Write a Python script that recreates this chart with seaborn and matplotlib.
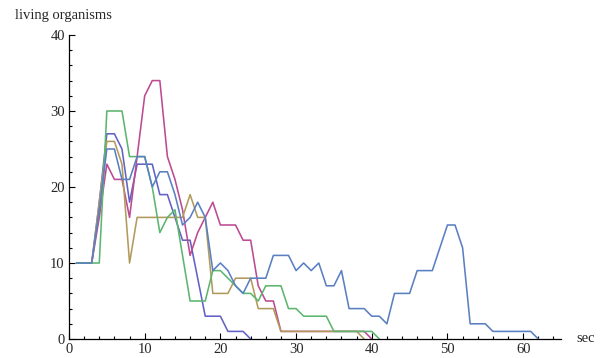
import matplotlib
matplotlib.use("Agg")
import matplotlib.pyplot as plt
import pandas as pd
import seaborn as sns
from matplotlib.ticker import MultipleLocator

# Population counts per second for five runs
run_names = ["run 1", "run 2", "run 3", "run 4", "run 5"]

run1 = [10, 10, 10, 18, 27, 27, 25, 18, 23, 23, 23, 19, 19, 16, 13, 13, 8, 3, 3, 3,
        1, 1, 1, 0]
run2 = [10, 10, 10, 16, 23, 21, 21, 16, 24, 32, 34, 34, 24, 21, 17, 11, 14, 16, 18, 15,
        15, 15, 13, 13, 7, 5, 5, 1, 1, 1, 1, 1, 1, 1, 1, 1, 1, 1, 1, 0]
run3 = [10, 10, 10, 18, 26, 26, 23, 10, 16, 16, 16, 16, 16, 16, 16, 19, 16, 16, 6, 6,
        6, 8, 8, 8, 4, 4, 4, 1, 1, 1, 1, 1, 1, 1, 1, 1, 1, 1, 0]
run4 = [10, 10, 10, 10, 30, 30, 30, 24, 24, 24, 20, 14, 16, 17, 11, 5, 5, 5, 9, 9,
        8, 7, 6, 6, 5, 7, 7, 7, 4, 4, 3, 3, 3, 3, 1, 1, 1, 1, 1, 1, 0]
run5 = [10, 10, 10, 17, 25, 25, 21, 21, 24, 24, 20, 22, 22, 19, 15, 16, 18, 16, 9, 10,
        9, 7, 6, 8, 8, 8, 11, 11, 11, 9, 10, 9, 10, 7, 7, 9, 4, 4, 4, 3,
        3, 2, 6, 6, 6, 9, 9, 9, 12, 15, 15, 12, 2, 2, 2, 1, 1, 1, 1, 1,
        1, 0]

run_colors = ["#6262c6", "#bd4a92", "#b39a5c", "#5cb66f", "#5a80c2"]

x_ticks = [0, 10, 20, 30, 40, 50, 60]
y_ticks = [0, 10, 20, 30, 40]

rows = []
for name, values in zip(run_names, [run1, run2, run3, run4, run5]):
    for t, v in enumerate(values, start=1):
        rows.append({"run": name, "sec": t, "count": v})
df = pd.DataFrame(rows)

sns.set_style("ticks")
plt.rcParams["font.family"] = ["Liberation Serif", "DejaVu Serif"]

fig = plt.figure(figsize=(6.03, 3.58), dpi=100)
ax = fig.add_axes([69 / 603, 19 / 358, (561 - 69) / 603, (339 - 35) / 358])

sns.lineplot(data=df, x="sec", y="count", hue="run", hue_order=run_names,
             palette=run_colors, linewidth=1.15, legend=False, ax=ax,
             estimator=None, sort=False)

ax.set_xlim(0, 65)
ax.set_ylim(0, 40)
ax.set_xticks(x_ticks)
ax.set_yticks(y_ticks)
ax.xaxis.set_minor_locator(MultipleLocator(2))
ax.yaxis.set_minor_locator(MultipleLocator(2))
ax.tick_params(which="major", direction="in", length=4.5, width=0.8,
               labelsize=10.5, pad=3, color="black")
ax.tick_params(which="minor", direction="in", length=2.5, width=0.8, color="black")
ax.set_xlabel("")
ax.set_ylabel("")
for side in ["top", "right"]:
    ax.spines[side].set_visible(False)
for side in ["left", "bottom"]:
    ax.spines[side].set_linewidth(0.9)
    ax.spines[side].set_color("black")

fig.text(15 / 603, 1 - 15 / 358, "living organisms", ha="left", va="center",
         fontsize=10.5)
fig.text(576 / 603, 1 - 338 / 358, "sec", ha="left", va="center", fontsize=10.5)

fig.savefig("out.png", dpi=100, facecolor="white")
